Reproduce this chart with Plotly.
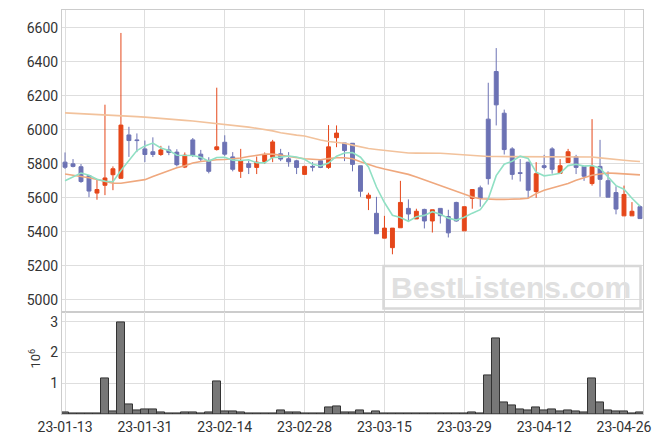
import plotly.graph_objects as go
from plotly.subplots import make_subplots
import pandas as pd

dates = ["23-01-13","23-01-16","23-01-17","23-01-18","23-01-19","23-01-20","23-01-25","23-01-26","23-01-27","23-01-30",
         "23-01-31","23-02-01","23-02-02","23-02-03","23-02-06","23-02-07","23-02-08","23-02-09","23-02-10","23-02-13",
         "23-02-14","23-02-15","23-02-16","23-02-17","23-02-20","23-02-21","23-02-22","23-02-23","23-02-24","23-02-27",
         "23-02-28","23-03-02","23-03-03","23-03-06","23-03-07","23-03-08","23-03-09","23-03-10","23-03-13","23-03-14",
         "23-03-15","23-03-16","23-03-17","23-03-20","23-03-21","23-03-22","23-03-23","23-03-24","23-03-27","23-03-28",
         "23-03-29","23-03-30","23-03-31","23-04-03","23-04-04","23-04-05","23-04-06","23-04-07","23-04-10","23-04-11",
         "23-04-12","23-04-13","23-04-14","23-04-17","23-04-18","23-04-19","23-04-20","23-04-21","23-04-24","23-04-25",
         "23-04-26","23-04-27","23-04-28"]

open_ = [5810,5800,5783,5731,5628,5674,5736,5715,5970,5941,
         5888,5871,5855,5882,5869,5781,5941,5857,5816,5884,
         5927,5841,5756,5801,5779,5814,5839,5859,5830,5818,
         5738,5785,5818,5779,5954,5923,5921,5789,5598,5509,
         5363,5307,5424,5538,5476,5532,5464,5538,5490,5573,
         5406,5597,5659,6063,6343,6098,5888,5748,5810,5637,
         5789,5888,5744,5808,5843,5785,5684,5785,5701,5631,
         5494,5494,5548]
high = [5867,5828,5799,5731,5707,6148,5785,6570,6018,5979,
        5937,5956,5906,5907,5886,5867,5952,5882,5839,6248,
        5968,5869,5888,5818,5843,5867,5941,5888,5869,5824,
        5789,5810,5826,6028,6026,5923,5921,5789,5630,5606,
        5494,5422,5700,5591,5536,5536,5530,5538,5530,5577,
        5548,5649,5672,6277,6481,6119,5898,5828,5810,5810,
        5853,5898,5828,5888,5853,5785,6063,5941,5756,5668,
        5672,5575,5556]
low = [5770,5779,5688,5604,5589,5616,5645,5715,5841,5869,
       5810,5840,5847,5851,5785,5775,5840,5814,5744,5878,
       5847,5756,5717,5740,5740,5799,5810,5816,5783,5740,
       5738,5756,5775,5770,5898,5816,5756,5606,5528,5389,
       5363,5268,5424,5464,5476,5420,5396,5449,5367,5460,
       5406,5536,5548,5678,6026,5855,5707,5696,5600,5600,
       5768,5742,5744,5808,5740,5700,5672,5606,5604,5503,
       5494,5494,5478]
close = [5780,5785,5696,5640,5649,5717,5771,6028,5937,5937,
         5855,5855,5882,5867,5795,5851,5851,5828,5756,5900,
         5857,5768,5818,5779,5810,5853,5929,5828,5812,5779,
         5785,5781,5779,5900,5981,5878,5797,5639,5616,5389,
         5422,5422,5573,5505,5521,5464,5530,5495,5394,5464,
         5548,5649,5597,5713,6147,5884,5738,5744,5645,5742,
         5779,5768,5789,5871,5779,5727,5785,5709,5604,5534,
         5620,5521,5478]
prior_closes = [5665,5591,5705,5764]

volume_m = [0.05,0.02,0.02,0.02,0.02,1.16,0.09,2.97,0.31,0.13,
            0.16,0.16,0.05,0.02,0.02,0.05,0.05,0.02,0.05,1.06,
            0.09,0.09,0.05,0.02,0.02,0.02,0.02,0.12,0.05,0.05,
            0.02,0.02,0.02,0.22,0.25,0.04,0.04,0.12,0.02,0.09,
            0.02,0.02,0.02,0.005,0.005,0.02,0.005,0.005,0.005,0.02,
            0.02,0.05,0.02,1.25,2.45,0.38,0.28,0.15,0.12,0.22,
            0.13,0.15,0.09,0.12,0.09,0.05,1.16,0.38,0.12,0.09,
            0.09,0.02,0.05]

ma20 = [5740,5734,5727,5718,5708,5698,5686,5686,5693,5700,
        5707,5725,5742,5760,5777,5789,5805,5814,5820,5824,
        5826,5828,5834,5843,5850,5857,5857,5850,5843,5836,
        5830,5827,5824,5831,5836,5836,5830,5812,5795,5782,
        5770,5760,5750,5738,5722,5705,5690,5672,5655,5640,
        5622,5605,5595,5591,5591,5591,5591,5594,5598,5625,
        5645,5658,5668,5685,5703,5720,5733,5740,5746,5744,
        5741,5738,5735]
ma60 = [6100,6098,6096,6094,6092,6090,6087,6083,6080,6078,
        6075,6072,6068,6064,6060,6056,6052,6047,6043,6038,
        6034,6029,6023,6016,6009,6003,5994,5983,5975,5969,
        5964,5950,5940,5931,5925,5921,5910,5898,5890,5884,
        5878,5873,5868,5864,5863,5864,5865,5862,5859,5855,
        5851,5849,5845,5843,5843,5843,5843,5843,5843,5843,
        5843,5843,5842,5842,5841,5840,5840,5835,5829,5825,
        5821,5817,5814]

tick_labels = dates[::10]

ma5 = pd.Series(prior_closes + close).rolling(5).mean().iloc[len(prior_closes):].tolist()

RED = "#E5471A"
BLUE = "#6C72B4"
GRID = "#DEDEDE"
FONT = "Roboto"

fig = make_subplots(rows=2, cols=1, shared_xaxes=True, vertical_spacing=0,
                    row_heights=[0.7486, 0.2514])

fig.add_trace(go.Scatter(x=dates, y=ma60, mode="lines",
                         line=dict(color="#F2C29C", width=1.6), hoverinfo="skip"), row=1, col=1)
fig.add_trace(go.Scatter(x=dates, y=ma20, mode="lines",
                         line=dict(color="#EFA87E", width=1.6), hoverinfo="skip"), row=1, col=1)
fig.add_trace(go.Scatter(x=dates, y=ma5, mode="lines",
                         line=dict(color="#90E0C4", width=1.6), hoverinfo="skip"), row=1, col=1)

fig.add_trace(go.Candlestick(
    x=dates, open=open_, high=high, low=low, close=close,
    increasing=dict(line=dict(color=RED, width=1), fillcolor=RED),
    decreasing=dict(line=dict(color=BLUE, width=1), fillcolor=BLUE),
    whiskerwidth=0), row=1, col=1)

fig.add_trace(go.Bar(x=dates, y=volume_m, marker=dict(color="#777777",
                     line=dict(color="#333333", width=1)), width=1.0), row=2, col=1)

fig.update_layout(
    width=663, height=444,
    margin=dict(l=62, r=20, t=9, b=28),
    paper_bgcolor="white", plot_bgcolor="white",
    showlegend=False,
    font=dict(family=FONT, size=14, color="#333333"),
    bargap=0,
)

common_x = dict(type="category", range=[-0.38, 72.38], showgrid=True, gridcolor=GRID,
                tickmode="array", tickvals=tick_labels, ticktext=tick_labels,
                showline=True, linecolor="#CCCCCC", mirror=True, ticks="",
                rangeslider=dict(visible=False))
fig.update_xaxes(**common_x, row=1, col=1)
fig.update_xaxes(**common_x, row=2, col=1)
fig.update_xaxes(showticklabels=False, row=1, col=1)
fig.update_xaxes(tickfont=dict(size=14, color="#333333"), row=2, col=1)

fig.update_yaxes(range=[4926, 6705], tickvals=[5000,5200,5400,5600,5800,6000,6200,6400,6600],
                 showgrid=True, gridcolor=GRID, showline=True, linecolor="#CCCCCC", mirror=True,
                 zeroline=False, ticks="", row=1, col=1)
fig.update_yaxes(range=[0, 3.3], tickvals=[1, 2, 3], showgrid=True, gridcolor=GRID,
                 showline=True, linecolor="#CCCCCC", mirror=True, zeroline=False, ticks="",
                 row=2, col=1)

fig.add_annotation(text="10<sup>6</sup>", xref="paper", yref="paper", x=-0.046, y=0.138,
                   xanchor="center", yanchor="middle",
                   textangle=-90, showarrow=False, font=dict(size=13, color="#333333"))

# watermark
fig.add_shape(type="rect", xref="paper", yref="paper",
              x0=(383.5-62)/581, x1=(640.5-62)/581,
              y0=(416.3-310)/407.3, y1=(416.3-267)/407.3,
              line=dict(color="#D8D8D8", width=2.5), fillcolor="rgba(0,0,0,0)")
fig.add_annotation(text="<b>BestListens.com</b>", xref="paper", yref="paper",
                   x=(511.5-62)/581, y=(416.3-289)/407.3, showarrow=False,
                   xanchor="center", yanchor="middle",
                   font=dict(family="Liberation Sans", size=30, color="#E0E0E0"))

fig.write_html("out.html", config={"displayModeBar": False},
               post_script="document.body.style.margin='0';")
